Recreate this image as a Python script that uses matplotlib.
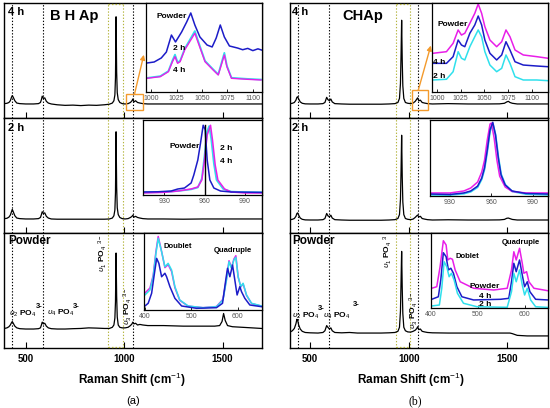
import matplotlib
matplotlib.use('Agg')
import matplotlib.pyplot as plt
from matplotlib.patches import Rectangle

plt.rcParams['font.family'] = ['Liberation Sans', 'DejaVu Sans']
plt.rcParams['mathtext.fontset'] = 'custom'
plt.rcParams['mathtext.rm'] = 'Liberation Sans'
plt.rcParams['mathtext.bf'] = 'Liberation Sans:bold'
plt.rcParams['mathtext.it'] = 'Liberation Sans:italic'

# ---------------- main spectra data ----------------
bhap_x = [392, 405, 415, 422, 428, 432, 437, 445, 455, 470, 500, 540, 565, 575, 580, 584, 590, 597, 605, 615,
          630, 660, 700, 740, 780, 820, 860, 900, 925, 940, 948, 953, 956, 959, 962, 965, 970, 978, 990, 1005,
          1020, 1032, 1040, 1044, 1050, 1058, 1068, 1080, 1095, 1120, 1200, 1300, 1400, 1460, 1485, 1497, 1505,
          1513, 1525, 1550, 1600, 1650, 1698]
bhap_4h = [12.5, 12.8, 13.5, 15, 18, 19.5, 18, 15, 13, 12.5, 12.2, 12.2, 12.5, 13.5, 16, 19, 17, 17.5, 14.5, 13,
           12.2, 11.5, 11, 11.2, 10.8, 11.2, 11, 11.5, 12, 13, 15, 20, 35, 88, 40, 22, 16, 13.5, 12.5, 12.2,
           12.5, 13.5, 15, 16.5, 14, 15, 13.5, 13, 12.5, 12.2, 12.2, 12.2, 12.2, 12.2, 12.2, 12.2, 12.2,
           12.2, 12.2, 12.2, 12.2, 12.2, 12.2]
bhap_2h = [12.5, 12.8, 13.8, 15.5, 18.5, 20.5, 18.5, 15, 13, 12.5, 12.2, 12.2, 12.5, 13.5, 16, 18.5, 17, 17.5, 14.5, 13,
           12.2, 12, 12, 12, 12, 12, 12, 12, 12.2, 13, 15, 20, 35, 88, 40, 22, 16, 13.5, 12.5, 12.2,
           12.5, 13.5, 14.5, 15.5, 13.8, 14.5, 13.5, 13, 12.5, 12.2, 12.2, 12, 12.2, 12.2, 12.2, 12.2, 12.2,
           12.2, 12.2, 12.2, 12.2, 12.2, 12.2]
bhap_pw = [17, 17.5, 18.5, 20, 22, 23, 21.5, 19, 17.5, 16.8, 16.5, 16.5, 16.8, 17.5, 20, 22.5, 21, 21.5, 19, 17.5,
           16.8, 16.5, 16.5, 16.8, 17, 17.5, 17.3, 17, 17, 18, 20, 26, 40, 82.6, 45, 27, 20, 18, 17.5, 17.5,
           18, 19.5, 21, 22.5, 21, 21.5, 20, 20.5, 20, 19.5, 19.5, 19, 19, 19, 19.5, 23, 30,
           24, 19.5, 18.5, 18, 17.5, 17]

chap_x = [400, 410, 420, 428, 433, 437, 442, 450, 460, 475, 500, 540, 565, 575, 580, 584, 590, 598, 605, 612,
          625, 660, 700, 740, 780, 820, 860, 900, 930, 945, 953, 958, 961, 964, 967, 970, 975, 983, 995, 1010,
          1022, 1033, 1041, 1045, 1051, 1059, 1068, 1080, 1095, 1120, 1200, 1300, 1400, 1460, 1485, 1497, 1505,
          1513, 1525, 1550, 1600, 1650, 1706]
chap_4h = [12.5, 12.8, 13.5, 15.5, 18, 18.5, 16.5, 14, 12.8, 12.3, 12.2, 12.2, 12.5, 13.5, 16, 18, 16, 15, 16.5, 14,
           12.5, 12.2, 12, 12, 12, 12, 12, 12.2, 12.5, 13.5, 17, 30, 55, 85, 50, 28, 17, 13.5, 12.8, 12.5,
           13, 14.5, 16.5, 17.5, 15, 15.5, 13.5, 13, 12.5, 12.2, 12.5, 12.2, 12.2, 12.3, 12.8, 14, 14.5,
           13.5, 12.8, 12.2, 12.2, 12.2, 12.2]
chap_2h = [11.6, 11.9, 12.6, 14.5, 17, 17.5, 15.5, 13, 11.9, 11.4, 11.3, 11.3, 11.6, 12.6, 15, 17, 15, 14, 15.5, 13,
           11.6, 11.3, 11.1, 11.1, 11.1, 11.1, 11.1, 11.3, 11.6, 12.6, 16, 29, 54, 85, 49, 27, 16, 12.6, 11.9, 11.6,
           12.1, 13.6, 15, 15.6, 14, 14.5, 12.6, 12.1, 11.6, 11.3, 11.5, 11.3, 11.3, 11.4, 11.8, 12.8, 13,
           12.5, 11.8, 11.3, 11.3, 11.3, 11.3]
chap_pw = [14, 15, 17, 21, 25, 24, 20, 16.5, 14.5, 13.5, 13.2, 13, 13.5, 15, 17.5, 19.5, 18, 16.5, 17.5, 15,
           13.5, 13.2, 13.5, 13, 13, 13, 13, 13.2, 13.5, 14.5, 18, 32, 58, 84, 52, 30, 18, 15, 14, 13.8,
           14.5, 15.5, 17, 18.5, 16, 16.5, 14.5, 14, 13.5, 13.2, 13, 13, 13, 13, 13, 13, 13,
           13, 12.5, 11, 10.5, 10.5, 10.5]

# ---------------- inset data ----------------
# BHAp, 4 h panel inset (1000-1100 region): powder blue, 2 h cyan, 4 h magenta
bt_pw_x = [996, 1003, 1010, 1015, 1020, 1024, 1030, 1035, 1039, 1043, 1048, 1055, 1060, 1064, 1068, 1072, 1077,
           1085, 1090, 1095, 1100, 1105, 1109]
bt_pw_y = [32.6, 33.7, 38.2, 44.9, 64, 56.2, 67.4, 78.7, 88.8, 75.3, 61.8, 52.8, 50.6, 60.7, 75.3, 61.8, 51.7,
           49.4, 47.5, 49, 46.5, 48.5, 47]
bt_hx = [996, 1009, 1017, 1021, 1023.5, 1026, 1028.5, 1033, 1040, 1043, 1046.5, 1053, 1061, 1066, 1069.5, 1072,
         1074.5, 1079, 1094, 1108]
bt_4h_y = [15.4, 17.2, 22.8, 34, 39.7, 32.2, 34, 47.2, 60.3, 66, 54.7, 34, 24.7, 19.1, 32.2, 41.6, 28.4, 15.4, 14.3, 13.5]
bt_2h_y = [15.8, 17.8, 23.5, 35.5, 42, 33.5, 35, 48.5, 62.5, 68.5, 56.5, 35, 25.5, 19.8, 34, 44, 29.5, 16, 14.8, 14]

# BHAp, 2 h panel inset (v1 region)
bm_pw_x = [914, 925, 935, 940, 945, 950, 952, 955, 957, 959, 960.5, 962, 964, 967, 972, 980, 990, 1003]
bm_pw_y = [4, 4.3, 5.3, 8, 9.3, 16, 26.7, 46.7, 69, 93, 87, 46.7, 20, 9.3, 5.3, 4, 3.8, 3.5]
bm_4h_x = [914, 930, 940, 950, 955, 958, 960, 962, 964.5, 966, 968, 970, 975, 980, 990, 1003]
bm_4h_y = [2.7, 3.5, 5.3, 8, 10.7, 20, 46.7, 80, 93, 73, 40, 20, 8, 4, 2.7, 2.7]
bm_2h_x = [914, 930, 940, 950, 955, 958, 960, 962, 963.5, 965, 967, 969, 974, 980, 990, 1003]
bm_2h_y = [3.5, 4, 5.3, 7.5, 10, 22, 52, 85, 92, 75, 42, 20, 8, 4.5, 3.8, 3.5]

# BHAp, powder panel inset (v2 / v4 region)
bb_hx = [400, 410.8, 417.8, 423.7, 428.6, 435.9, 443, 450, 457.4, 464.5, 475, 493, 525, 554, 568, 575.6, 581,
         586.4, 591.4, 595.7, 600.6, 606.4, 611.3, 618.7, 629.4, 651]
bb_2h_y = [19.5, 26, 43.2, 73.6, 93.1, 75.7, 56.2, 60.6, 51.9, 30.3, 13, 5.2, 3, 4.3, 13, 39, 62.7, 54.2, 64.9,
           68.4, 43.2, 30.3, 34.7, 19.5, 8.7, 5.2]
bb_4h_y = [22, 28.5, 45, 76, 95.5, 76, 55, 59, 50, 29, 12.5, 5, 3, 4.5, 14, 41, 64, 55, 66, 70.5, 43, 30, 34,
           19, 8.5, 5]
bb_pw_x = [400, 407, 414.4, 419.4, 425.2, 430, 435.9, 443, 446.6, 453.8, 464.5, 479, 511, 554, 567, 574, 577.8,
           582.8, 588.6, 593.5, 598.4, 604.3, 607.9, 615, 625.8, 651]
bb_pw_y = [5.2, 8.7, 21.7, 43.2, 67.1, 60.6, 43.2, 47.7, 43.2, 30.3, 15.2, 5.2, 2.2, 3, 8.7, 39, 54.2, 43.2, 58.4,
           39, 19.5, 30.3, 23.8, 15.2, 6.5, 4.3]

# CHAp, 4 h panel inset: powder magenta, 4 h blue, 2 h cyan
ct_x = [996.1, 1010.2, 1017.2, 1022.5, 1026, 1029.5, 1034.8, 1040, 1043.6, 1047.2, 1050.6, 1055.9, 1063, 1068.3,
        1072.8, 1077, 1082.3, 1091, 1105.2, 1117]
ct_pw_y = [43.5, 45.3, 54.7, 69.7, 64, 66, 77.2, 88.4, 98.9, 88.4, 73.4, 58.4, 50.9, 56.5, 69.7, 62.1, 47.2, 41.6, 39.7, 37.9]
ct_4h_y = [32.2, 32.2, 39.7, 58.4, 52.8, 50.9, 66, 75.3, 85.4, 75.3, 58.4, 43.5, 36, 41.6, 56.5, 47.2, 34, 30.3, 29.2, 28.4]
ct_2h_y = [13.5, 14.3, 22.8, 45.3, 37.9, 36, 50.9, 62.1, 69.7, 62.1, 45.3, 30.3, 22.8, 26.6, 41.6, 32.2, 17.2, 13.5, 13.5, 12.7]

# CHAp, 2 h panel inset
cm_pw_x = [916, 930, 940, 945, 950, 953, 955, 957, 959, 960, 962, 964, 966, 970, 975, 985, 1001]
cm_pw_y = [4, 4, 6.6, 10.5, 18.4, 31.6, 47, 73.7, 94.7, 96, 76, 47, 26, 11.8, 6, 4, 4]
cm_hx = [916, 930, 940, 945, 950, 953, 955, 957, 959, 961, 963, 965, 967, 970, 975, 985, 1001]
cm_4h_y = [2.6, 2, 4, 6.6, 13, 23.7, 37, 60.5, 87, 97, 80, 50, 27.6, 14.5, 6.6, 3.3, 2.6]
cm_2h_y = [1.5, 1.3, 3, 5.5, 11.5, 22, 35, 58, 85, 95, 81, 52, 29, 15, 6, 2.5, 1.5]

# CHAp, powder panel inset
cb_pw_x = [401.5, 412.3, 419.4, 426.4, 432.3, 435.9, 440.9, 445.8, 451.6, 462.4, 491, 534, 562.8, 572, 577, 582.1,
           589.2, 595, 598.4, 604.3, 609.2, 620, 650]
cb_pw_y = [26.3, 28.4, 55, 89.7, 84, 64, 66.3, 65, 50.7, 35, 26.3, 24, 26.3, 50.7, 75, 64, 79.6, 59.6, 46.3,
           48.4, 35, 26.3, 23]
cb_4h_x = [401.5, 415.7, 420.9, 426.4, 432.3, 437.2, 442.4, 448, 455.3, 466, 491, 548.4, 566.2, 572, 577, 582.1,
           589.2, 595, 600, 605.7, 611.3, 623.6, 650]
cb_4h_y = [11.6, 15, 37.3, 73.7, 68.4, 50.7, 53, 46.3, 28.4, 15, 10.7, 11.6, 12.9, 35, 59.6, 48.4, 64, 44, 28.4,
           35, 21.7, 11.6, 10.7]
cb_2h_x = [401.5, 417.9, 423, 428, 433.7, 438.7, 443.6, 449.4, 456.5, 469.4, 498.2, 562.8, 572, 577, 582.1, 589.2,
           595, 600, 605.7, 612.9, 623.6, 650]
cb_2h_y = [2.7, 4, 26.3, 61.7, 55, 41.7, 46.3, 37.3, 19.6, 6.3, 1.7, 0.9, 21.7, 46.3, 35, 50.7, 30.7, 17.3,
           26.3, 10.7, 1.7, 0.8]

main_ticks = [500, 1000, 1500]
top_ticks = [1000, 1025, 1050, 1075, 1100]
mid_ticks = [930, 960, 990]
bot_ticks = [400, 500, 600]

MAG = '#e81ee8'
CYA = '#2fe0ec'
BLU = '#1c1cc8'
ORA = '#f39a2c'
YEL = '#b4b43c'

W, H = 550, 408
fig = plt.figure(figsize=(5.5, 4.08), dpi=100)


def box(x0, y0, x1, y1):
    return [x0 / W, 1 - y1 / H, (x1 - x0) / W, (y1 - y0) / H]


def ftext(px, py, s, size=7, ha='left', va='center', weight='bold', **kw):
    fig.text(px / W, 1 - py / H, s, fontsize=size, ha=ha, va=va, fontweight=weight, zorder=20, **kw)


cols = [
    dict(x0=4, x1=262, xlim=(390, 1700), x=bhap_x, ys=[bhap_4h, bhap_2h, bhap_pw],
         dots=[429, 587, 1044], yel=[920, 993]),
    dict(x0=290, x1=548, xlim=(398, 1706), x=chap_x, ys=[chap_4h, chap_2h, chap_pw],
         dots=[437, 596, 1048], yel=[934, 1006]),
]
rows = [(3, 118), (118, 233), (233, 348)]

main_axes = []
for c in cols:
    axs = []
    for r, (y0, y1) in enumerate(rows):
        ax = fig.add_axes(box(c['x0'], y0, c['x1'], y1))
        ax.plot(c['x'], c['ys'][r], color='k', lw=0.9, zorder=3)
        ax.set_xlim(*c['xlim'])
        ax.set_ylim(0, 100)
        ax.set_yticks([])
        ax.set_xticks(main_ticks)
        ax.tick_params(axis='x', direction='in', length=4, width=0.8, labelsize=7,
                       labelbottom=(r == 2), pad=4)
        for lab in ax.get_xticklabels():
            lab.set_fontweight('bold')
        for sp in ax.spines.values():
            sp.set_linewidth(1.0)
        for d in c['dots']:
            ax.axvline(d, color='k', lw=0.8, ls=(0, (1.2, 1.6)), zorder=2)
        for d in c['yel']:
            ax.axvline(d, color=YEL, lw=0.8, ls=(0, (1.2, 1.6)), zorder=2)
        if r == 0:
            ax.plot(c['yel'], [99.2, 99.2], color=YEL, lw=0.9, ls=(0, (1.2, 1.6)), zorder=6, clip_on=False)
        if r == 2:
            ax.plot(c['yel'], [0.8, 0.8], color=YEL, lw=0.9, ls=(0, (1.2, 1.6)), zorder=6, clip_on=False)
        axs.append(ax)
    main_axes.append(axs)

# orange boxes and arrows
axL = main_axes[0][0]
axL.add_patch(Rectangle((1010, 7), 86, 14, fill=False, ec=ORA, lw=1.0, zorder=5))
axL.annotate('', xy=(1100, 55), xytext=(1053, 21),
             arrowprops=dict(arrowstyle='-|>', color=ORA, lw=1.0, mutation_scale=7, shrinkA=0, shrinkB=0))
axR = main_axes[1][0]
axR.add_patch(Rectangle((1017, 7), 81, 17, fill=False, ec=ORA, lw=1.0, zorder=5))
axR.annotate('', xy=(1112, 63), xytext=(1048, 24),
             arrowprops=dict(arrowstyle='-|>', color=ORA, lw=1.0, mutation_scale=7, shrinkA=0, shrinkB=0))


def inset(x0, y0, x1, y1, xlim, ticks):
    ax = fig.add_axes(box(x0, y0, x1, y1), zorder=5)
    ax.set_facecolor('white')
    ax.set_xlim(*xlim)
    ax.set_ylim(0, 100)
    ax.set_yticks([])
    ax.set_xticks(ticks)
    ax.tick_params(axis='x', direction='in', length=2, width=0.6, labelsize=5, labelcolor='#555555', pad=2)
    for sp in ax.spines.values():
        sp.set_linewidth(0.9)
    return ax


# left insets
a = inset(146, 3, 262, 92, (995, 1109), top_ticks)
a.plot(bt_pw_x, bt_pw_y, color=BLU, lw=1.1)
a.plot(bt_hx, bt_2h_y, color=CYA, lw=1.3)
a.plot(bt_hx, bt_4h_y, color=MAG, lw=1.0)

a = inset(143, 120, 262, 195, (914, 1003), mid_ticks)
a.plot(bm_2h_x, bm_2h_y, color=CYA, lw=1.3)
a.plot(bm_4h_x, bm_4h_y, color=MAG, lw=1.1)
a.plot(bm_pw_x, bm_pw_y, color=BLU, lw=1.1)
a.plot([960, 960], [0, 93], color='k', lw=1.0)

a = inset(144, 233, 262, 310, (398, 652), bot_ticks)
a.plot(bb_hx, bb_4h_y, color=MAG, lw=1.1)
a.plot(bb_hx, bb_2h_y, color=CYA, lw=1.1)
a.plot(bb_pw_x, bb_pw_y, color=BLU, lw=1.1)

# right insets
a = inset(432, 3, 548, 92, (995, 1117), top_ticks)
a.plot(ct_x, ct_pw_y, color=MAG, lw=1.1)
a.plot(ct_x, ct_4h_y, color=BLU, lw=1.1)
a.plot(ct_x, ct_2h_y, color=CYA, lw=1.1)

a = inset(430, 120, 548, 196, (915.5, 1001), mid_ticks)
a.plot(cm_hx, cm_2h_y, color=CYA, lw=1.3)
a.plot(cm_pw_x, cm_pw_y, color=MAG, lw=1.1)
a.plot(cm_hx, cm_4h_y, color=BLU, lw=1.1)

a = inset(431, 233, 548, 308, (400, 650), bot_ticks)
a.plot(cb_pw_x, cb_pw_y, color=MAG, lw=1.1)
a.plot(cb_4h_x, cb_4h_y, color=BLU, lw=1.1)
a.plot(cb_2h_x, cb_2h_y, color=CYA, lw=1.1)

# ---------------- texts ----------------
for x0 in (8, 292):
    ftext(x0, 12, '4 h', size=8)
    ftext(x0, 128, '2 h', size=8)
    ftext(x0, 241, 'Powder', size=8.5)
ftext(50, 16, 'B H Ap', size=10.5)
ftext(342, 16, 'CHAp', size=10.5)

# left inset labels
ftext(172, 17, 'Powder', size=6, ha='center')
ftext(173, 48, '2 h', size=6)
ftext(173, 71, '4 h', size=6)
ftext(200, 146, 'Powder', size=6, ha='right')
ftext(220, 149, '2 h', size=6)
ftext(220, 162, '4 h', size=6)
ftext(163, 246, 'Doublet', size=5.5)
ftext(233, 250, 'Quadruple', size=5.5, ha='center')

# right inset labels
ftext(453, 24, 'Powder', size=6, ha='center')
ftext(433, 62, '4 h', size=6)
ftext(433, 77, '2 h', size=6)
ftext(521, 243, 'Quadruple', size=5.5, ha='center')
ftext(455, 257, 'Doblet', size=5.5)
ftext(485, 286, 'Powder', size=6, ha='center')
ftext(485, 297, '4 h', size=6, ha='center')
ftext(485, 305, '2 h', size=6, ha='center')

# band assignments
ftext(9, 314, r'$\upsilon_2$ PO$_4$', size=6)
ftext(36, 307, '3-', size=5.5)
ftext(47, 313, r'$\upsilon_4$ PO$_4$', size=6)
ftext(73, 306, '3-', size=5.5)
ftext(103, 272, r'$\upsilon_1$ PO$_4$ $^{3-}$', size=6, ha='center', va='bottom', rotation=90)
ftext(128, 325, r'$\upsilon_3$ PO$_4$ $^{3-}$', size=6, ha='center', va='bottom', rotation=90)

ftext(292, 316, r'$\upsilon_2$ PO$_4$', size=6)
ftext(318, 308, '3-', size=5.5)
ftext(323, 316, r'$\upsilon_4$ PO$_4$', size=6)
ftext(353, 305, '3-', size=5.5)
ftext(388, 268, r'$\upsilon_1$ PO$_4$ $^{3}$', size=6, ha='center', va='bottom', rotation=90)
ftext(414, 329, r'$\upsilon_3$ PO$_4$ $^{3-}$', size=6, ha='center', va='bottom', rotation=90)

# axis titles
ftext(132, 380, r'Raman Shift (cm$^{-1}$)', size=8.5, ha='center')
ftext(411, 380, r'Raman Shift (cm$^{-1}$)', size=8.5, ha='center')
ftext(133, 401, '(a)', size=8, ha='center', weight='normal')
fig.text(415 / W, 1 - 401 / H, '(b)', fontsize=8.5, ha='center', va='center',
         family=['Liberation Serif', 'DejaVu Serif'], zorder=20)

fig.savefig('out.png', dpi=100)
